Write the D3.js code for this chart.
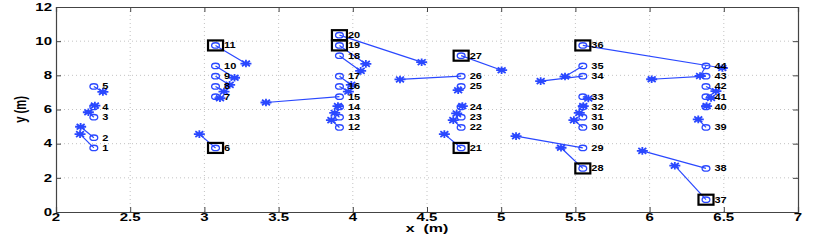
<!DOCTYPE html>
<html>
<head>
<meta charset="utf-8">
<script src="https://cdn.jsdelivr.net/npm/d3@7/dist/d3.min.js"></script>
<style>
    body { margin: 0; background: #fff; }
    svg { display: block; }
    text { font-family: "Liberation Sans", Arial, sans-serif; font-weight: bold; fill: #000; }
</style>
</head>
<body>
<svg id="chart" width="830" height="245"></svg>
<script>
(function () {

    /*=============== DATA ============*/

    var labels = d3.range(1, 45);

    // reference positions (circles)
    var circleX = [
        2.255, 2.255, 2.255, 2.255, 2.255,
        3.075, 3.075, 3.075, 3.075, 3.075, 3.075,
        3.91, 3.91, 3.91, 3.91, 3.91, 3.91, 3.91, 3.91, 3.91,
        4.73, 4.73, 4.73, 4.73, 4.73, 4.73, 4.73,
        5.55, 5.55, 5.55, 5.55, 5.55, 5.55, 5.55, 5.55, 5.55,
        6.38, 6.38, 6.38, 6.38, 6.38, 6.38, 6.38, 6.38
    ];
    var circleY = [
        3.75, 4.35, 5.55, 6.15, 7.35,
        3.75, 6.75, 7.35, 7.95, 8.55, 9.75,
        4.95, 5.55, 6.15, 6.75, 7.35, 7.95, 9.15, 9.75, 10.35,
        3.75, 4.95, 5.55, 6.15, 7.35, 7.95, 9.15,
        2.55, 3.75, 4.95, 5.55, 6.15, 6.75, 7.95, 8.55, 9.75,
        0.72, 2.55, 4.95, 6.15, 6.75, 7.35, 7.95, 8.55
    ];

    // estimated positions (stars)
    var starX = [
        2.162, 2.166, 2.218, 2.262, 2.316,
        2.966, 3.105, 3.132, 3.17, 3.203, 3.28,
        3.856, 3.878, 3.9, 3.415, 3.97, 3.99, 4.053, 4.088, 4.464,
        4.617, 4.677, 4.70, 4.738, 4.71, 4.318, 5.003,
        5.403, 5.1, 5.49, 5.526, 5.553, 5.587, 5.266, 5.43, 6.49,
        6.17, 5.951, 6.328, 6.384, 6.414, 6.447, 6.014, 6.34
    ];
    var starY = [
        4.56, 4.99, 5.84, 6.23, 7.03,
        4.56, 6.66, 7.05, 7.44, 7.86, 8.69,
        5.38, 5.8, 6.2, 6.41, 7.05, 7.44, 8.26, 8.67, 8.77,
        4.56, 5.38, 5.77, 6.2, 7.13, 7.76, 8.3,
        3.76, 4.44, 5.38, 5.8, 6.2, 6.64, 7.66, 7.93, 8.43,
        2.71, 3.58, 5.42, 6.2, 6.68, 7.07, 7.77, 7.96
    ];

    var boxedLabels = [6, 11, 19, 20, 21, 27, 28, 36, 37];

    var xTicks = [2, 2.5, 3, 3.5, 4, 4.5, 5, 5.5, 6, 6.5, 7];
    var yTicks = [0, 2, 4, 6, 8, 10, 12];

    /*=============== LAYOUT ============*/

    var margin = { left: 56, top: 7, right: 32, bottom: 33 };
    var width = 830 - margin.left - margin.right;
    var height = 245 - margin.top - margin.bottom;

    var blue = '#2a48ff';
    var squish = 0.7;   // the source figure is compressed vertically

    var x = d3.scaleLinear().domain([2, 7]).range([0, width]);
    var y = d3.scaleLinear().domain([0, 12]).range([height, 0]);

    var points = labels.map(function (lab, i) {
        return {
            label: lab,
            cx: circleX[i], cy: circleY[i],
            sx: starX[i], sy: starY[i],
            boxed: boxedLabels.indexOf(lab) !== -1
        };
    });

    var svg = d3.select('#chart');
    var g = svg.append('g')
        .attr('transform', 'translate(' + margin.left + ',' + margin.top + ')');

    /*=============== GRID ============*/

    g.append('g').selectAll('line')
        .data(xTicks.slice(1, -1))
        .enter().append('line')
            .attr('x1', function (d) { return x(d); })
            .attr('x2', function (d) { return x(d); })
            .attr('y1', 0).attr('y2', height)
            .attr('stroke', '#b4b4b4')
            .attr('stroke-width', 0.8)
            .attr('stroke-dasharray', '1,3');

    g.append('g').selectAll('line')
        .data(yTicks.slice(1, -1))
        .enter().append('line')
            .attr('y1', function (d) { return y(d); })
            .attr('y2', function (d) { return y(d); })
            .attr('x1', 0).attr('x2', width)
            .attr('stroke', '#b4b4b4')
            .attr('stroke-width', 0.8)
            .attr('stroke-dasharray', '1,3');

    /*=============== AXES ============*/

    var axisColor = '#444';

    var xAxisBottom = d3.axisBottom(x).tickValues(xTicks).tickSize(-5).tickFormat(function () { return ''; });
    var xAxisTop = d3.axisTop(x).tickValues(xTicks).tickSize(-5).tickFormat(function () { return ''; });
    var yAxisLeft = d3.axisLeft(y).tickValues(yTicks).tickSize(-5).tickFormat(function () { return ''; });
    var yAxisRight = d3.axisRight(y).tickValues(yTicks).tickSize(-5).tickFormat(function () { return ''; });

    [
        [xAxisBottom, 'translate(0,' + height + ')'],
        [xAxisTop, 'translate(0,0)'],
        [yAxisLeft, 'translate(0,0)'],
        [yAxisRight, 'translate(' + width + ',0)']
    ].forEach(function (a) {
        var ax = g.append('g').attr('transform', a[1]).call(a[0]);
        ax.selectAll('path').attr('stroke', axisColor).attr('stroke-width', 1.2);
        ax.selectAll('line').attr('stroke', axisColor).attr('stroke-width', 1);
    });

    // tick labels (text squished vertically like the source)
    g.append('g').selectAll('text')
        .data(xTicks)
        .enter().append('text')
            .attr('transform', function (d) {
                return 'translate(' + x(d) + ',' + (height + 8.5) + ') scale(1,' + squish + ')';
            })
            .attr('text-anchor', 'middle')
            .attr('font-size', '15px')
            .text(function (d) { return d; });

    g.append('g').selectAll('text')
        .data(yTicks)
        .enter().append('text')
            .attr('transform', function (d) {
                return 'translate(-4,' + (y(d) + 3.8) + ') scale(1,' + squish + ')';
            })
            .attr('text-anchor', 'end')
            .attr('font-size', '15px')
            .text(function (d) { return d; });

    g.append('text')
        .attr('transform', 'translate(' + (width / 2) + ',' + (height + 20) + ') scale(1,' + squish + ')')
        .attr('text-anchor', 'middle')
        .attr('font-size', '16px')
        .attr('xml:space', 'preserve')
        .style('white-space', 'pre')
        .text('x  (m)');

    g.append('text')
        .attr('transform', 'translate(' + (-30) + ',' + (height / 2) + ') scale(1,' + squish + ') rotate(-90)')
        .attr('text-anchor', 'middle')
        .attr('font-size', '16px')
        .text('y (m)');

    /*=============== MARKS ============*/

    var marks = g.append('g');

    marks.selectAll('line.link')
        .data(points)
        .enter().append('line')
            .attr('class', 'link')
            .attr('x1', function (d) { return x(d.cx); })
            .attr('y1', function (d) { return y(d.cy); })
            .attr('x2', function (d) { return x(d.sx); })
            .attr('y2', function (d) { return y(d.sy); })
            .attr('stroke', blue)
            .attr('stroke-width', 1.2);

    marks.selectAll('ellipse')
        .data(points)
        .enter().append('ellipse')
            .attr('cx', function (d) { return x(d.cx); })
            .attr('cy', function (d) { return y(d.cy); })
            .attr('rx', 3.9)
            .attr('ry', 2.7)
            .attr('fill', 'none')
            .attr('stroke', blue)
            .attr('stroke-width', 1.3);

    // '*' marker: plus and cross, wider than tall
    var starPath = 'M-5.5,0H5.5M0,-3.8V3.8M-4,-2.8L4,2.8M-4,2.8L4,-2.8';

    marks.selectAll('path.star')
        .data(points)
        .enter().append('path')
            .attr('class', 'star')
            .attr('d', starPath)
            .attr('transform', function (d) {
                return 'translate(' + x(d.sx) + ',' + y(d.sy) + ')';
            })
            .attr('fill', 'none')
            .attr('stroke', blue)
            .attr('stroke-width', 1.8);

    marks.selectAll('rect')
        .data(points.filter(function (d) { return d.boxed; }))
        .enter().append('rect')
            .attr('x', function (d) { return x(d.cx) - 7.5; })
            .attr('y', function (d) { return y(d.cy) - 5; })
            .attr('width', 15)
            .attr('height', 10)
            .attr('fill', 'none')
            .attr('stroke', '#000')
            .attr('stroke-width', 2.2);

    marks.selectAll('text.num')
        .data(points)
        .enter().append('text')
            .attr('class', 'num')
            .attr('transform', function (d) {
                return 'translate(' + (x(d.cx) + 8.5) + ',' + (y(d.cy) + 3) + ') scale(1,0.78)';
            })
            .attr('font-size', '11px')
            .text(function (d) { return d.label; });

})();
</script>
</body>
</html>
